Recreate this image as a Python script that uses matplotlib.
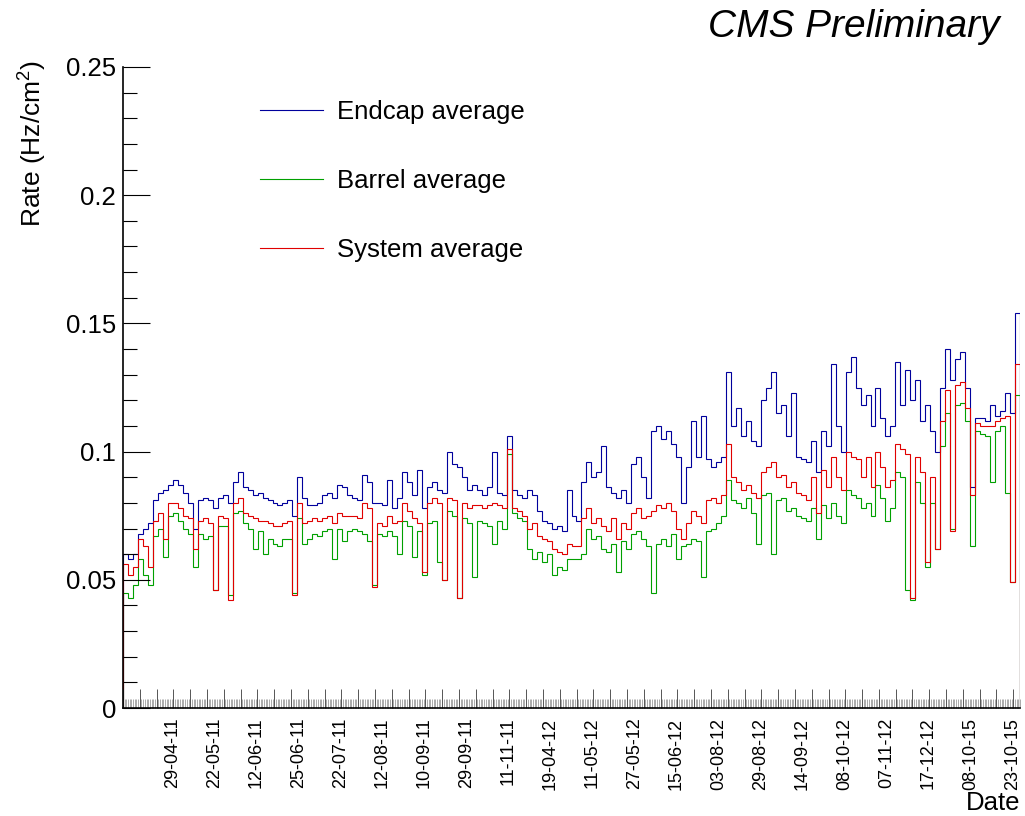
import numpy as np
import matplotlib
matplotlib.use("Agg")
import matplotlib.pyplot as plt
from matplotlib.lines import Line2D

plt.rcParams['font.family'] = ['Liberation Sans', 'DejaVu Sans']
plt.rcParams['mathtext.fontset'] = 'custom'
plt.rcParams['mathtext.rm'] = 'Liberation Sans'
plt.rcParams['mathtext.it'] = 'Liberation Sans:italic'

# ---------------- data ----------------
endcap = [
    .060, .058, .060, .068, .070, .072, .081, .084, .085, .087,
    .089, .087, .084, .080, .070, .081, .082, .081, .078, .082,
    .083, .080, .088, .092, .086, .085, .083, .084, .082, .081,
    .080, .079, .080, .081, .075, .090, .082, .079, .079, .080,
    .083, .084, .082, .087, .086, .083, .082, .081, .091, .088,
    .080, .080, .079, .089, .078, .082, .092, .088, .083, .093,
    .078, .086, .088, .085, .084, .100, .095, .094, .090, .085,
    .087, .085, .083, .086, .100, .084, .083, .106, .085, .083,
    .082, .085, .083, .077, .073, .072, .070, .071, .069, .085,
    .075, .073, .088, .096, .090, .092, .102, .086, .084, .082,
    .085, .080, .095, .098, .090, .082, .108, .110, .105, .108,
    .103, .098, .080, .094, .112, .098, .114, .097, .094, .096,
    .098, .131, .110, .117, .106, .112, .104, .102, .120, .125,
    .131, .115, .118, .106, .123, .098, .097, .096, .104, .092,
    .108, .102, .134, .110, .100, .131, .137, .125, .118, .122,
    .110, .125, .113, .106, .110, .135, .118, .132, .120, .128,
    .112, .118, .108, .100, .125, .140, .128, .136, .139, .125,
    .086, .113, .113, .112, .118, .114, .116, .123, .115, .154,
]
system = [
    .056, .052, .055, .066, .063, .055, .073, .076, .066, .080,
    .080, .078, .075, .074, .062, .073, .074, .072, .046, .075,
    .074, .042, .080, .082, .076, .075, .074, .073, .073, .072,
    .071, .071, .072, .073, .044, .080, .072, .073, .074, .073,
    .074, .075, .072, .076, .075, .075, .075, .074, .080, .078,
    .047, .072, .071, .075, .072, .073, .080, .077, .074, .072,
    .053, .080, .082, .080, .050, .082, .081, .043, .080, .078,
    .079, .079, .078, .079, .080, .079, .078, .101, .078, .077,
    .075, .070, .072, .067, .066, .065, .062, .061, .060, .064,
    .063, .063, .074, .078, .072, .074, .071, .069, .074, .066,
    .072, .070, .076, .078, .074, .075, .077, .079, .078, .080,
    .077, .070, .066, .072, .077, .075, .072, .081, .082, .080,
    .083, .103, .090, .088, .085, .087, .084, .082, .092, .094,
    .096, .090, .091, .086, .088, .084, .083, .081, .090, .076,
    .093, .086, .098, .090, .085, .100, .098, .097, .090, .098,
    .086, .100, .094, .086, .089, .103, .101, .099, .043, .098,
    .092, .057, .090, .062, .112, .124, .069, .126, .127, .117,
    .083, .111, .110, .110, .110, .112, .113, .114, .049, .134,
]
barrel = [
    .045, .043, .048, .058, .052, .048, .067, .070, .059, .075,
    .076, .073, .070, .068, .055, .068, .066, .067, .046, .071,
    .071, .044, .076, .077, .072, .070, .062, .069, .060, .066,
    .064, .063, .066, .066, .045, .074, .064, .066, .068, .067,
    .069, .070, .058, .070, .065, .069, .070, .069, .068, .065,
    .048, .068, .067, .069, .067, .060, .073, .071, .059, .069,
    .052, .072, .073, .057, .050, .077, .075, .043, .074, .072,
    .051, .073, .072, .071, .064, .073, .070, .099, .076, .074,
    .073, .062, .058, .061, .057, .060, .052, .055, .054, .058,
    .058, .058, .060, .070, .066, .067, .062, .061, .064, .053,
    .065, .062, .068, .069, .066, .063, .045, .064, .066, .063,
    .068, .058, .063, .064, .066, .065, .051, .069, .070, .072,
    .075, .089, .081, .080, .078, .082, .076, .064, .083, .084,
    .060, .081, .082, .077, .078, .075, .074, .073, .078, .066,
    .079, .074, .080, .075, .072, .085, .083, .082, .078, .080,
    .075, .087, .082, .073, .078, .092, .090, .046, .042, .088,
    .080, .055, .080, .062, .102, .115, .070, .118, .119, .112,
    .063, .108, .107, .106, .088, .108, .110, .084, .049, .122,
]
date_labels = ["29-04-11", "22-05-11", "12-06-11", "25-06-11", "22-07-11",
               "12-08-11", "10-09-11", "29-09-11", "11-11-11", "19-04-12",
               "11-05-12", "27-05-12", "15-06-12", "03-08-12", "29-08-12",
               "14-09-12", "08-10-12", "07-11-12", "17-12-12", "08-10-15",
               "23-10-15"]
series_names = ["Endcap average", "Barrel average", "System average"]

# ---------------- layout ----------------
W, H = 1025, 816
fig = plt.figure(figsize=(W / 100, H / 100), dpi=100)
ax = fig.add_axes([123 / W, 1 - 708 / H, (1020 - 123) / W, (708 - 67) / H])

n_axis_bins = 534
edges = np.linspace(0, n_axis_bins, len(endcap) + 1)

c_blue = '#00009c'
c_green = '#00a000'
c_red = '#e00000'
lw = 0.8
ax.stairs(endcap, edges, baseline=0, color=c_blue, lw=lw)
ax.stairs(barrel, edges, baseline=0, color=c_green, lw=lw)
ax.stairs(system, edges, baseline=0, color=c_red, lw=lw)

ax.set_xlim(0, n_axis_bins)
ax.set_ylim(0, 0.25)

for s in ['top', 'right']:
    ax.spines[s].set_visible(False)
for s in ['left', 'bottom']:
    ax.spines[s].set_linewidth(1.2)
    ax.spines[s].set_color('black')

# y ticks
ax.set_yticks([0, 0.05, 0.1, 0.15, 0.2, 0.25])
ax.set_yticklabels(['0', '0.05', '0.1', '0.15', '0.2', '0.25'])
ax.set_yticks(np.arange(0, 0.2501, 0.01), minor=True)
ax.tick_params(axis='y', which='major', direction='in', length=19.5, width=0.8,
               labelsize=18.5, pad=5)
ax.tick_params(axis='y', which='minor', direction='in', length=9.8, width=0.8)

# x ticks: tall every 10 bins, small every bin
ax.set_xticks(np.arange(0, n_axis_bins + 1, 10))
ax.set_xticks(np.arange(0, n_axis_bins + 1, 1), minor=True)
ax.tick_params(axis='x', which='major', direction='in', length=13.7, width=0.7,
               labelbottom=False, color='#555555')
ax.tick_params(axis='x', which='minor', direction='in', length=6.5, width=0.5,
               color='#888888')

sec = ax.secondary_xaxis('bottom')
label_pos = 29.5 + 25 * np.arange(len(date_labels))
sec.set_xticks(label_pos)
sec.set_xticklabels(date_labels, rotation=90, fontsize=13)
sec.tick_params(axis='x', length=0, pad=7)
sec.spines['bottom'].set_visible(False)

# labels
fig.text(33 / W, 1 - 60 / H, r'Rate (Hz/cm$^{2}$)', rotation=90, ha='center',
         va='top', fontsize=19)
fig.text(1020 / W, 1 - 803 / H, 'Date', ha='right', va='center', fontsize=18.5)
fig.text(1000 / W, 1 - 27 / H, 'CMS Preliminary', ha='right', va='center',
         fontsize=28, style='italic')

handles = [Line2D([], [], color=c, lw=lw) for c in (c_blue, c_green, c_red)]
ax.legend(handles, series_names, loc='upper left',
          bbox_to_anchor=((260 - 123) / 897, (708 - 100) / 641),
          frameon=False, fontsize=18.5, handlelength=2.45, handletextpad=0.55,
          labelspacing=1.75, borderpad=0, borderaxespad=0)

fig.savefig('out.png', dpi=100)
